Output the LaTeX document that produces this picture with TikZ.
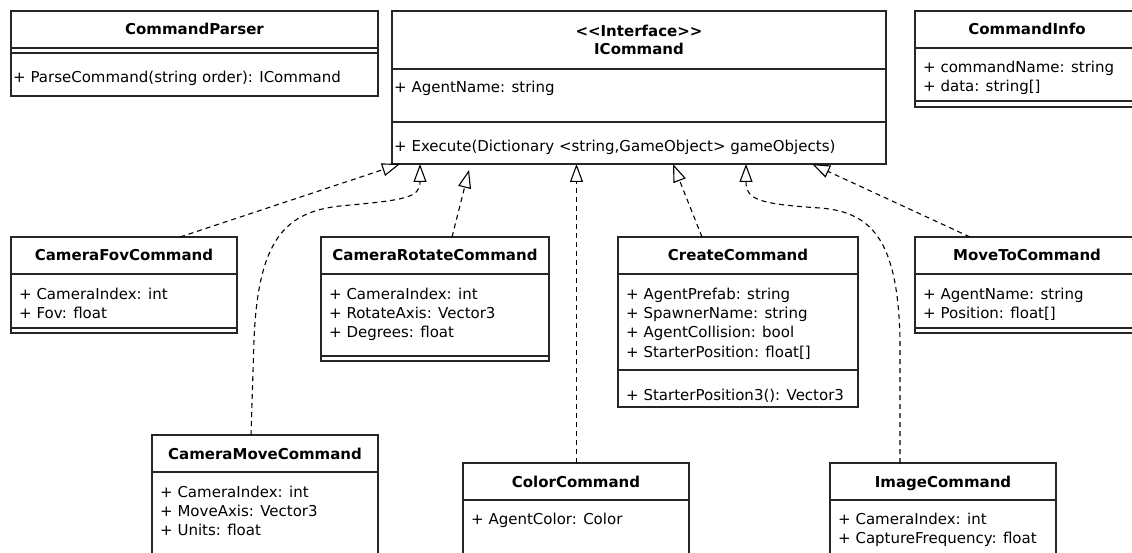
\documentclass[tikz,border=0pt]{standalone}
\usepackage{fontspec}
\setmainfont{DejaVu Sans}
\usepackage{tikz}
\usetikzlibrary{arrows.meta}
\usetikzlibrary{calc}

\newcommand{\umlfont}{\fontsize{15}{19}\selectfont}

\begin{document}
\begin{tikzpicture}[x=1pt, y=-1pt,
    box/.style={draw=black!85, line width=1.2pt, inner sep=0pt, outer sep=0pt, anchor=north west},
    divider/.style={draw=black!85, line width=1.2pt},
    cls/.style={font=\umlfont\bfseries, anchor=base, inner sep=0pt},
    mem/.style={font=\umlfont, anchor=base west, inner sep=0pt},
    realize/.style={line width=1.1pt, dash pattern=on 5pt off 4pt, arrows = {-Triangle[open, width=13pt, length=18pt]}}]
    \useasboundingbox (0, 0) rectangle (1132, 553);
    \fill[white] (0, 0) rectangle (1132, 553);
    % top row
    \node[box, minimum width=367pt, minimum height=85pt] (parser) at (11, 11) {};
    \draw[divider] (11, 48) -- (378, 48);
    \draw[divider] (11, 53) -- (378, 53);
    \node[cls] (parserT) at (194.5, 35) {CommandParser};
    \node[mem] (parser1) at (13, 83) {+ ParseCommand(string order): ICommand};
    \node[box, minimum width=494pt, minimum height=153pt] (icmd) at (392, 11) {};
    \draw[divider] (392, 69) -- (886, 69);
    \draw[divider] (392, 122) -- (886, 122);
    \node[cls] (icmdS) at (639, 36.5) {<\kern0pt<Interface>\kern0pt>};
    \node[cls] (icmdT) at (639, 54.5) {ICommand};
    \node[mem] (icmd1) at (394, 93) {+ AgentName: string};
    \node[mem] (icmd2) at (394, 152) {+ Execute(Dictionary <string,GameObject> gameObjects)};
    \node[box, minimum width=224pt, minimum height=96pt] (info) at (915, 11) {};
    \draw[divider] (915, 48) -- (1139, 48);
    \draw[divider] (915, 101) -- (1139, 101);
    \node[cls] (infoT) at (1027, 35) {CommandInfo};
    \node[mem] (info1) at (923, 73) {+ commandName: string};
    \node[mem] (info2) at (923, 92) {+ data: string[]};
    % middle row
    \node[box, minimum width=226pt, minimum height=96pt] (fov) at (11, 237) {};
    \draw[divider] (11, 274) -- (237, 274);
    \draw[divider] (11, 328) -- (237, 328);
    \node[cls] (fovT) at (124, 261) {CameraFovCommand};
    \node[mem] (fov1) at (19, 299) {+ CameraIndex: int};
    \node[mem] (fov2) at (19, 318) {+ Fov: float};
    \node[box, minimum width=228pt, minimum height=124pt] (crot) at (321, 237) {};
    \draw[divider] (321, 274) -- (549, 274);
    \draw[divider] (321, 356) -- (549, 356);
    \node[cls] (crotT) at (435, 261) {CameraRotateCommand};
    \node[mem] (crot1) at (329, 299) {+ CameraIndex: int};
    \node[mem] (crot2) at (329, 318) {+ RotateAxis: Vector3};
    \node[mem] (crot3) at (329, 337) {+ Degrees: float};
    \node[box, minimum width=240pt, minimum height=170pt] (create) at (618, 237) {};
    \draw[divider] (618, 274) -- (858, 274);
    \draw[divider] (618, 370) -- (858, 370);
    \node[cls] (createT) at (738, 261) {CreateCommand};
    \node[mem] (create1) at (626, 299) {+ AgentPrefab: string};
    \node[mem] (create2) at (626, 318) {+ SpawnerName: string};
    \node[mem] (create3) at (626, 337) {+ AgentCollision: bool};
    \node[mem] (create4) at (626, 357) {+ StarterPosition: float[]};
    \node[mem] (create5) at (626, 400) {+ StarterPosition3(): Vector3};
    \node[box, minimum width=224pt, minimum height=96pt] (moveto) at (915, 237) {};
    \draw[divider] (915, 274) -- (1139, 274);
    \draw[divider] (915, 328) -- (1139, 328);
    \node[cls] (movetoT) at (1027, 261) {MoveToCommand};
    \node[mem] (moveto1) at (923, 299) {+ AgentName: string};
    \node[mem] (moveto2) at (923, 318) {+ Position: float[]};
    % bottom row
    \node[box, minimum width=226pt, minimum height=130pt] (cmove) at (152, 435) {};
    \draw[divider] (152, 472) -- (378, 472);
    \node[cls] (cmoveT) at (265, 459.5) {CameraMoveCommand};
    \node[mem] (cmove1) at (160, 497) {+ CameraIndex: int};
    \node[mem] (cmove2) at (160, 516) {+ MoveAxis: Vector3};
    \node[mem] (cmove3) at (160, 535) {+ Units: float};
    \node[box, minimum width=226pt, minimum height=100pt] (color) at (463, 463) {};
    \draw[divider] (463, 500) -- (689, 500);
    \node[cls] (colorT) at (576, 487.5) {ColorCommand};
    \node[mem] (color1) at (471, 524) {+ AgentColor: Color};
    \node[box, minimum width=226pt, minimum height=100pt] (image) at (830, 463) {};
    \draw[divider] (830, 500) -- (1056, 500);
    \node[cls] (imageT) at (943, 487.5) {ImageCommand};
    \node[mem] (image1) at (838, 524) {+ CameraIndex: int};
    \node[mem] (image2) at (838, 543) {+ CaptureFrequency: float};
    % realizations of ICommand
    \draw[realize] ($(fov.north west)+(169, 0)$) -- ($(icmd.south west)+(8, 0)$);
    \draw[realize] ($(cmove.north west)+(99, 0)$) -- (254, 340) .. controls (258, 240) and (285, 212) .. (340, 206) .. controls (405, 200) and (420, 198) .. ($(icmd.south west)+(28, 0)$);
    \draw[realize] ($(crot.north west)+(131, 0)$) -- ($(icmd.south west)+(77, 6)$);
    \draw[realize] ($(color.north)+(0.5, 0)$) -- ($(icmd.south west)+(184.5, 0)$);
    \draw[realize] ($(create.north west)+(84, 0)$) -- ($(icmd.south west)+(281, 0)$);
    \draw[realize] ($(image.north west)+(70, 0)$) -- (900, 340) .. controls (898, 245) and (875, 212) .. (820, 208) .. controls (760, 204) and (746, 200) .. ($(icmd.south west)+(354, 0)$);
    \draw[realize] ($(moveto.north west)+(55, 0)$) -- ($(icmd.south west)+(420, 0)$);
\end{tikzpicture}
\end{document}
